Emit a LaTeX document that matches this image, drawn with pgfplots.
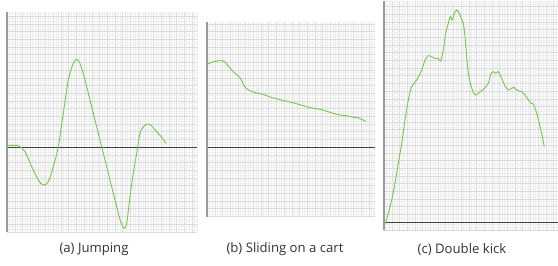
\documentclass[border=0pt]{standalone}
\usepackage{pgfplots}
\pgfplotsset{compat=1.18}
\usepackage{fontspec}
\setmainfont{Open Sans}
\definecolor{curve}{RGB}{118,198,78}
\definecolor{majgrid}{RGB}{218,218,218}
\definecolor{mingrid}{RGB}{238,238,238}
\pgfplotsset{
  panel/.style={
    scale only axis, anchor=south west,
    axis x line*=middle, axis y line*=left,
    x axis line style={draw=black!75, line width=0.8bp},
    y axis line style={draw=black!40, line width=1.8bp},
    xtick distance=7.7, ytick distance=7.7,
    minor x tick num=2, minor y tick num=2,
    grid=both,
    major grid style={draw=majgrid, line width=0.4bp},
    minor grid style={draw=mingrid, line width=0.4bp},
    xticklabels={}, yticklabels={},
    major tick length=0pt, minor tick length=0pt,
    clip=false,
  },
  curve/.style={color=curve, line width=0.9bp, smooth, no markers},
}
\begin{document}
\begin{tikzpicture}[x=1bp,y=1bp]
\path[use as bounding box] (0,0) rectangle (558,265);
% (a)
\begin{axis}[panel, at={(7bp,33bp)}, width=190bp, height=220bp,
  xmin=0, xmax=190, ymin=-85, ymax=135]
\addplot[curve] coordinates {
(0,1.3) (11.3,1.3) (18,-4.7) (24.7,-19.7) (31.3,-33) (36.3,-38) (41.3,-34.7)
(46.3,-19.7) (51.3,0.3) (56.3,33.7) (61.3,67) (66.3,83.7) (69.7,87.7) (73,83.7)
(78,67) (83,47) (89.7,20.3) (94.7,0.3) (99.7,-19.7) (104.7,-39.7) (109.7,-59.7)
(113.7,-74.7) (117,-81.3) (119.7,-76.3) (123,-49.7) (126.3,-26.3) (129.7,-6.3)
(133,13.7) (137,21) (141.3,23) (144.7,21) (149.7,15.3) (154.7,9.7) (159,3.7)
};
\end{axis}
% (b)
\begin{axis}[panel, at={(207bp,48bp)}, width=168bp, height=195bp,
  xmin=0, xmax=168, ymin=-70, ymax=125]
\addplot[curve] coordinates {
(0.3,82.7) (4.7,84.7) (9.7,86) (16.3,86) (21.3,81) (26.3,75.3) (33,69.3)
(35.7,64.3) (38,59.7) (43,56.3) (49.7,54) (56.3,52.7) (63,50) (73,47.3)
(83,45) (93,42.3) (99.7,40.3) (103,39.3) (113,37.7) (119.7,35.7) (126.3,33.7)
(133,32) (139.7,31.3) (146.3,29.7) (151.3,29.3) (154.7,27.7) (159,25.3)
};
\end{axis}
% (c)
\begin{axis}[panel, at={(384bp,35bp)}, width=174bp, height=229bp,
  xmin=0, xmax=174, ymin=-8, ymax=221]
\addplot[curve] coordinates {
(1,-2) (4.3,8.7) (7.7,22) (11,38.7) (14.3,58.7) (17.7,78.7) (21,102) (24.3,122)
(27.7,135.3) (32.7,142) (37.7,152) (41,162) (44.3,166.3) (47.7,165.3) (51,163.7)
(54.3,163.3) (56.7,161) (59.3,172) (61.7,188.7) (64.3,198.7) (66.3,205.3)
(68.3,202) (70.3,208.7) (72.7,212) (75,209.3) (77,203.7) (79.3,198.7) (81,185.3)
(82.7,165.3) (84.3,148.7) (87.7,133.7) (91,127) (94.3,128.7) (99.3,132.7)
(104.3,138.7) (107,148.7) (109.3,150.3) (111.7,148.7) (114.3,150.3) (117.7,143.7)
(121,136) (124.3,132) (127.7,133.7) (129.7,134.7) (132.7,132) (137.7,130.3)
(141,127) (144.3,122) (147,118.7) (149.3,118) (152.7,108.7) (156,95.3)
(158.3,85.3) (160.3,75.3)
};
\end{axis}
\node[font=\fontsize{13.2}{15}\selectfont, text=black!80] at (94,15.5) {(a) Jumping};
\node[font=\fontsize{13.2}{15}\selectfont, text=black!80] at (285,15.5) {(b) Sliding on a cart};
\node[font=\fontsize{13.2}{15}\selectfont, text=black!80] at (462,15.5) {(c) Double kick};
\end{tikzpicture}
\end{document}
